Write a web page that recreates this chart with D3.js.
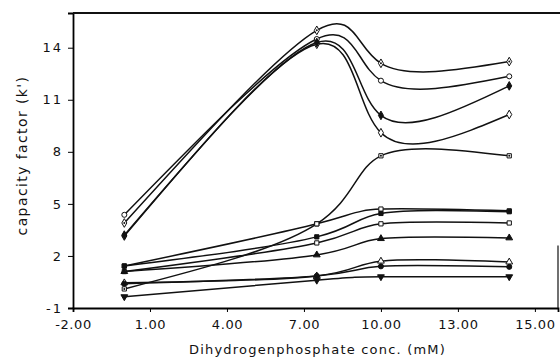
<html>
<head>
    <meta charset="utf-8">
    <script src="https://d3js.org/d3.v7.min.js"></script>
    <style>
        body { margin: 0; background: #fff; }
        text { font-family: "DejaVu Sans", sans-serif; fill: #111; }
    </style>
</head>
<body></body>
<script>

    // phosphate concentrations (mM) where k' was measured
    var conc = [0, 7.5, 10, 15];

    // capacity factor per solute
    var kDotDiamond   = [3.9, 15.0, 13.1, 13.2];
    var kOpenCircle   = [4.37, 14.5, 12.1, 12.35];
    var kFillDiamond  = [3.2, 14.3, 10.1, 11.8];
    var kOpenDiamond  = [3.15, 14.2, 9.1, 10.15];
    var kDotSquare    = [0.1, 3.85, 7.77, 7.77];
    var kOpenSquare   = [1.42, 3.85, 4.7, 4.6];
    var kFillSquare   = [1.42, 3.1, 4.45, 4.55];
    var kOpenSquare2  = [1.1, 2.75, 3.85, 3.9];
    var kFillTriangle = [1.1, 2.06, 3.0, 3.04];
    var kOpenTriangle = [0.45, 0.85, 1.7, 1.65];
    var kFillCircle   = [0.4, 0.85, 1.4, 1.37];
    var kFillTriDown  = [-0.35, 0.6, 0.8, 0.8];

    var xTicks = [-2, 1, 4, 7, 10, 13, 16];
    var xTickLabels = ["-2.00", "1.00", "4.00", "7.00", "10.00", "13.00", "15.00"];
    var yTicks = [-1, 2, 5, 8, 11, 14];

    // open diamond goes first so the filled one sits on top at 0 mM
    var series = [
        { k: kDotDiamond, m: "dotdiamond" },
        { k: kOpenCircle, m: "circle" },
        { k: kOpenDiamond, m: "diamond" },
        { k: kFillDiamond, m: "fdiamond" },
        { k: kDotSquare, m: "dotsquare" },
        { k: kOpenSquare, m: "square" },
        { k: kFillSquare, m: "fsquare" },
        { k: kOpenSquare2, m: "square" },
        { k: kFillTriangle, m: "ftri" },
        { k: kOpenTriangle, m: "tri" },
        { k: kFillCircle, m: "fcircle" },
        { k: kFillTriDown, m: "ftridown" }
    ];

    var margin = { top: 13, right: 2, bottom: 51, left: 73 },
        width = 560 - margin.left - margin.right,
        height = 359 - margin.top - margin.bottom;

    var svg = d3.select("body")
        .append("svg")
        .attr("width", 560)
        .attr("height", 359)
        .append("g")
        .attr("transform", "translate(" + margin.left + "," + margin.top + ")");

    var x = d3.scaleLinear().domain([-2, 16.9]).range([0, width]);
    var y = d3.scaleLinear().domain([-1, 16]).range([height, 0]);

    // x axis
    var xAxis = svg.append("g")
        .attr("transform", "translate(0," + height + ")")
        .call(d3.axisBottom(x).tickValues(xTicks)
            .tickFormat(function (d, i) { return xTickLabels[i]; })
            .tickSizeOuter(0).tickSize(4).tickPadding(8));
    xAxis.selectAll("text").style("font-size", "13px").style("letter-spacing", "0.6px");
    xAxis.select(".domain").attr("stroke-width", 1.8);

    // y axis
    var yAxis = svg.append("g")
        .call(d3.axisLeft(y).tickValues(yTicks)
            .tickFormat(function (d) { return String(d); })
            .tickSizeOuter(0).tickSize(5).tickPadding(5));
    yAxis.selectAll("text").style("font-size", "13px").style("letter-spacing", "2px");
    yAxis.select(".domain").attr("stroke-width", 1.8);

    // top border + the bit of right border left in the scan
    svg.append("line")
        .attr("x1", 0).attr("x2", width + margin.right)
        .attr("y1", 0).attr("y2", 0)
        .attr("stroke", "#111").attr("stroke-width", 1.8);
    svg.append("line")
        .attr("x1", width).attr("x2", width)
        .attr("y1", y(2.6)).attr("y2", height)
        .attr("stroke", "#111").attr("stroke-width", 1.2);

    // axis titles
    svg.append("text")
        .attr("x", width / 2 + 2)
        .attr("y", height + 46)
        .style("text-anchor", "middle")
        .style("font-size", "13px")
        .style("letter-spacing", "1.2px")
        .text("Dihydrogenphosphate conc. (mM)");

    svg.append("text")
        .attr("transform", "rotate(-90)")
        .attr("x", -(height / 2) + 5)
        .attr("y", -46)
        .style("text-anchor", "middle")
        .style("font-size", "14px")
        .style("letter-spacing", "1.4px")
        .text("capacity factor (k')");

    // curves
    var line = d3.line()
        .x(function (d) { return x(d[0]); })
        .y(function (d) { return y(d[1]); })
        .curve(d3.curveNatural);

    svg.append("g")
        .selectAll("path")
        .data(series)
        .enter()
        .append("path")
        .attr("d", function (s) { return line(d3.zip(conc, s.k)); })
        .attr("fill", "none")
        .attr("stroke", "#111")
        .attr("stroke-width", 1.5);

    // markers
    function drawMarker(g, type) {
        var sym, fill = "#fff", rot = 0, size = 20;
        if (type == "circle" || type == "fcircle") sym = d3.symbolCircle;
        if (type == "diamond" || type == "fdiamond" || type == "dotdiamond") { sym = d3.symbolDiamond; size = 22; }
        if (type == "square" || type == "fsquare" || type == "dotsquare") { sym = d3.symbolSquare; size = 18; }
        if (type == "tri" || type == "ftri" || type == "ftridown") { sym = d3.symbolTriangle; size = 20; }
        if (type == "ftridown") rot = 180;
        if (type[0] == "f") fill = "#111";
        g.append("path")
            .attr("d", d3.symbol().type(sym).size(size)())
            .attr("transform", "rotate(" + rot + ")")
            .attr("fill", fill)
            .attr("stroke", "#111")
            .attr("stroke-width", 1);
        if (type == "dotdiamond" || type == "dotsquare") {
            g.append("circle").attr("r", 1).attr("fill", "#111");
        }
    }

    series.forEach(function (s) {
        s.k.forEach(function (v, i) {
            var g = svg.append("g")
                .attr("transform", "translate(" + x(conc[i]) + "," + y(v) + ")");
            drawMarker(g, s.m);
        });
    });

</script>
</html>
